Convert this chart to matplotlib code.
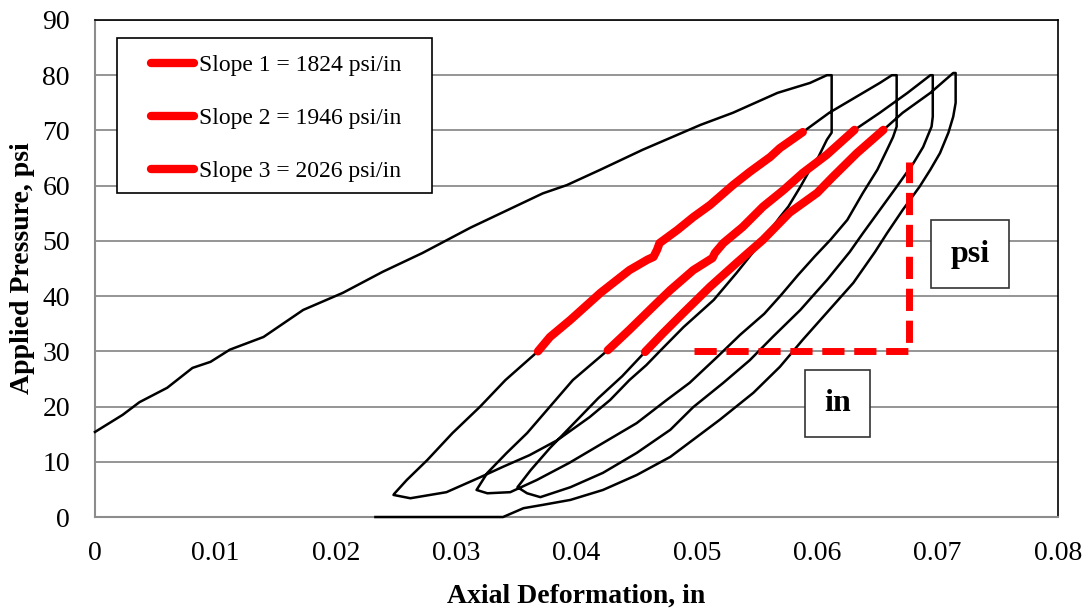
import numpy as np
import matplotlib
matplotlib.use("Agg")
import matplotlib.pyplot as plt
from matplotlib.lines import Line2D
from matplotlib.patches import Rectangle

plt.rcParams['font.family'] = ['Liberation Serif', 'DejaVu Serif']

# ---- data (deformation in inches, pressure in psi) ----
# first loading
load1_x = [0.0, 0.0023, 0.0037, 0.006, 0.0081, 0.0096, 0.0112, 0.014, 0.0173, 0.0206,
           0.0239, 0.0272, 0.0312, 0.0345, 0.0372, 0.0392, 0.042, 0.0455, 0.0503, 0.053,
           0.0567, 0.0594, 0.0608]
load1_y = [15.4, 18.5, 20.8, 23.4, 27.0, 28.1, 30.3, 32.6, 37.5, 40.6,
           44.4, 47.8, 52.4, 55.8, 58.6, 60.1, 62.9, 66.5, 71.0, 73.2,
           76.8, 78.6, 80.0]

# unloading 1
unload1_x = [0.0612, 0.0612, 0.0608, 0.0601, 0.0594, 0.0586, 0.0576, 0.0569, 0.0555, 0.0533,
             0.0514, 0.0489, 0.047, 0.0458, 0.0444, 0.0428, 0.0411, 0.0384, 0.0361, 0.0339,
             0.032, 0.0292, 0.0262, 0.0248]
unload1_y = [80.0, 69.6, 68.3, 65.2, 62.9, 59.8, 56.2, 54.3, 50.2, 44.2,
             39.3, 34.4, 30.2, 27.5, 24.8, 21.2, 18.1, 13.9, 11.2, 9.1,
             7.2, 4.5, 3.4, 4.0]

# reloading 2 (red part = slope 1)
reload2_low_x = [0.0249, 0.0259, 0.0276, 0.0297, 0.032, 0.0341]
reload2_low_y = [4.3, 6.7, 10.3, 15.2, 20.0, 24.8]
slope1_x = [0.0368, 0.0378, 0.0395, 0.042, 0.0444, 0.0459, 0.0464, 0.0467, 0.0469, 0.0484,
            0.0497, 0.0511, 0.053, 0.0544, 0.0561, 0.0569, 0.0588]
slope1_y = [30.0, 32.6, 35.7, 40.6, 44.7, 46.6, 47.1, 48.4, 49.6, 52.0,
            54.3, 56.5, 60.1, 62.5, 65.2, 66.8, 69.7]
reload2_up_x = [0.061, 0.0638, 0.0652, 0.0662]
reload2_up_y = [73.2, 76.8, 78.6, 80.0]

# unloading 2
unload2_x = [0.0666, 0.0666, 0.0663, 0.0658, 0.065, 0.0638, 0.0625, 0.0611, 0.0598, 0.0584,
             0.057, 0.0556, 0.0536, 0.0517, 0.0494, 0.0475, 0.045, 0.0422, 0.0394, 0.0367,
             0.0345, 0.0326, 0.0317]
unload2_y = [80.0, 70.7, 68.8, 66.5, 62.9, 58.7, 53.8, 50.2, 47.2, 43.8,
             40.2, 36.8, 33.0, 29.0, 24.3, 21.2, 17.0, 13.4, 9.8, 6.7,
             4.5, 4.3, 4.9]

# reloading 3 (red part = slope 2)
reload3_low_x = [0.0326, 0.0342, 0.0359, 0.0378, 0.0397]
reload3_low_y = [8.0, 11.6, 15.2, 20.0, 24.8]
slope2_x = [0.0426, 0.0444, 0.0467, 0.0478, 0.0497, 0.0513, 0.0515, 0.0522, 0.0538, 0.0555,
            0.0572, 0.0588, 0.0608, 0.0631]
slope2_y = [30.2, 33.9, 38.8, 41.1, 44.7, 46.9, 47.8, 49.6, 52.5, 56.2,
            59.2, 62.3, 65.6, 70.1]
reload3_up_x = [0.0652, 0.0675, 0.0694]
reload3_up_y = [73.2, 76.8, 80.0]

# unloading 3
unload3_x = [0.0696, 0.0696, 0.0695, 0.0688, 0.068, 0.0666, 0.0652, 0.0638, 0.0627, 0.0608,
             0.0586, 0.0563, 0.0544, 0.0522, 0.0497, 0.0478, 0.045, 0.0422, 0.0395, 0.037,
             0.0359, 0.0351]
unload3_y = [80.0, 72.5, 70.7, 67.0, 64.1, 59.8, 55.6, 51.4, 48.0, 42.9,
             37.5, 32.6, 28.4, 24.3, 19.9, 15.8, 11.6, 8.0, 5.4, 3.6,
             4.3, 5.4]

# reloading 4 (red part = slope 3)
reload4_low_x = [0.0362, 0.0378, 0.0398, 0.0418, 0.0438]
reload4_low_y = [8.5, 12.5, 17.0, 21.5, 25.5]
slope3_x = [0.0457, 0.0472, 0.0489, 0.0511, 0.0533, 0.0555, 0.0577, 0.06, 0.0613, 0.0633,
            0.0655]
slope3_y = [29.9, 33.3, 37.0, 41.7, 46.0, 50.2, 55.1, 58.7, 61.6, 65.9,
            70.1]
reload4_up_x = [0.0671, 0.0694, 0.0713]
reload4_up_y = [73.2, 76.8, 80.4]

# unloading 4
unload4_x = [0.0715, 0.0715, 0.0713, 0.0709, 0.0702, 0.0694, 0.0685, 0.0671, 0.0658, 0.0648,
             0.063, 0.0608, 0.0588, 0.0569, 0.0547, 0.0519, 0.0489, 0.0478, 0.045, 0.0422,
             0.0395, 0.0372, 0.0356, 0.0339, 0.0233]
unload4_y = [80.4, 75.0, 72.5, 69.6, 65.9, 62.9, 59.8, 55.6, 51.4, 48.0,
             42.4, 37.0, 32.1, 27.2, 22.5, 17.6, 12.7, 10.9, 7.6, 4.9,
             3.1, 2.2, 1.6, 0.0, 0.0]

slope_labels = ["Slope 1 = 1824 psi/in", "Slope 2 = 1946 psi/in", "Slope 3 = 2026 psi/in"]

# red dashed "triangle" legs
tri_x = [0.0498, 0.0676, 0.0676]
tri_y = [30.0, 30.0, 64.3]

# whole test trace, one continuous line
trace_x = np.concatenate([load1_x, unload1_x, reload2_low_x, slope1_x, reload2_up_x,
                          unload2_x, reload3_low_x, slope2_x, reload3_up_x,
                          unload3_x, reload4_low_x, slope3_x, reload4_up_x, unload4_x])
trace_y = np.concatenate([load1_y, unload1_y, reload2_low_y, slope1_y, reload2_up_y,
                          unload2_y, reload3_low_y, slope2_y, reload3_up_y,
                          unload3_y, reload4_low_y, slope3_y, reload4_up_y, unload4_y])

fig = plt.figure(figsize=(10.89, 6.11), dpi=100)
ax = fig.add_axes([0.0872, 0.1538, 0.8843, 0.8135])

ax.plot(trace_x, trace_y, color='black', lw=1.8, solid_joinstyle='round', clip_on=False, zorder=3)

for sx, sy in [(slope1_x, slope1_y), (slope2_x, slope2_y), (slope3_x, slope3_y)]:
    ax.plot(sx, sy, color='#ff0000', lw=6, solid_capstyle='round', solid_joinstyle='round', zorder=4)

tri, = ax.plot(tri_x, tri_y, color='#ff0000', lw=5, zorder=4)
tri.set_dashes((3.2, 1.4))

ax.set_xlim(0, 0.08)
ax.set_ylim(0, 90)
ax.set_xticks(np.arange(0, 0.081, 0.01))
ax.set_xticklabels(['0', '0.01', '0.02', '0.03', '0.04', '0.05', '0.06', '0.07', '0.08'])
ax.set_yticks(np.arange(0, 91, 10))
ax.tick_params(length=0, labelsize=20)
ax.tick_params(axis='x', pad=17)
ax.tick_params(axis='y', pad=18)
ax.grid(axis='y', color='#8c8c8c', lw=1.3)
ax.set_axisbelow(True)
for s in ['left', 'bottom']:
    ax.spines[s].set_color('#8c8c8c')
    ax.spines[s].set_linewidth(1.5)
for s in ['top', 'right']:
    ax.spines[s].set_color('black')
    ax.spines[s].set_linewidth(1.2)

ax.set_xlabel("Axial Deformation, in", fontsize=20, fontweight='bold', labelpad=13)
ax.set_ylabel("Applied Pressure, psi", fontsize=20, fontweight='bold', labelpad=5)

# legend: frame drawn separately so the padding can differ per side
ax.add_patch(Rectangle((0.0228, 0.652), 0.3272, 0.3118, transform=ax.transAxes,
                       facecolor='white', edgecolor='black', lw=1.2, zorder=5))
handles = [Line2D([], [], color='#ff0000', lw=6, solid_capstyle='round') for _ in slope_labels]
leg = ax.legend(handles, slope_labels, loc='upper left', bbox_to_anchor=(0.0585, 0.9305),
                fontsize=17, frameon=False, handlelength=1.8,
                handletextpad=0.22, labelspacing=1.33, borderpad=0, borderaxespad=0)
leg.set_zorder(6)

box = dict(boxstyle='square,pad=0.6', facecolor='white', edgecolor='#333333', lw=1.2)
ax.text(0.0727, 47.6, "psi", fontsize=23, fontweight='bold', ha='center', va='center', bbox=box, zorder=5)
ax.text(0.0617, 20.5, "in", fontsize=23, fontweight='bold', ha='center', va='center', bbox=box, zorder=5)

fig.savefig("out.png", dpi=100)
